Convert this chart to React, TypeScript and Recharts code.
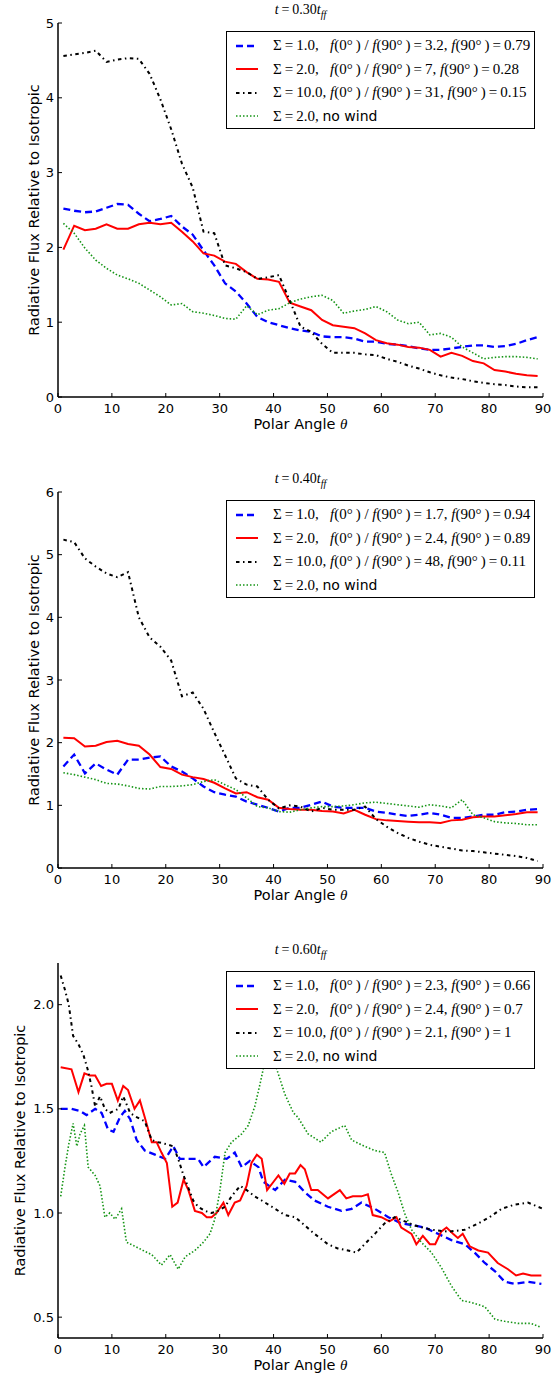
import React from 'react';
import { LineChart, Line, XAxis, YAxis, Legend } from 'recharts';

// angles sampled in the top two panels
const ANGLES = [1, 3, 5, 7, 9, 11, 13, 15, 17, 19, 21, 23, 25, 27, 29, 31, 33, 35, 37, 39, 41, 43, 45,
  47, 49, 51, 53, 55, 57, 59, 61, 63, 65, 67, 69, 71, 73, 75, 77, 79, 81, 83, 85, 87, 89];

const X_TICKS = [0, 10, 20, 30, 40, 50, 60, 70, 80, 90];

// t = 0.30 t_ff
const p1Blue = [2.52, 2.49, 2.47, 2.48, 2.53, 2.58, 2.57, 2.45, 2.35, 2.38, 2.42, 2.28, 2.17, 1.96, 1.76, 1.52, 1.41,
  1.25, 1.07, 1.0, 0.96, 0.92, 0.89, 0.87, 0.81, 0.8, 0.8, 0.78, 0.74, 0.74, 0.71, 0.7, 0.68, 0.65, 0.63, 0.63, 0.65,
  0.67, 0.69, 0.69, 0.67, 0.68, 0.71, 0.76, 0.8];
const p1Red = [1.97, 2.29, 2.23, 2.25, 2.31, 2.25, 2.25, 2.31, 2.33, 2.31, 2.33, 2.21, 2.08, 1.92, 1.89, 1.81, 1.78,
  1.67, 1.58, 1.57, 1.54, 1.26, 1.21, 1.16, 1.03, 0.96, 0.94, 0.92, 0.85, 0.76, 0.72, 0.7, 0.67, 0.66, 0.63, 0.54,
  0.59, 0.55, 0.48, 0.45, 0.36, 0.34, 0.31, 0.29, 0.28];
const p1Black = [4.56, 4.58, 4.6, 4.63, 4.48, 4.51, 4.53, 4.52, 4.32, 3.98, 3.58, 3.12, 2.8, 2.21, 2.19, 1.76, 1.72,
  1.67, 1.58, 1.6, 1.63, 1.29, 0.94, 0.87, 0.71, 0.59, 0.59, 0.59, 0.57, 0.56, 0.51, 0.47, 0.42, 0.38, 0.33, 0.29,
  0.26, 0.24, 0.21, 0.19, 0.17, 0.16, 0.14, 0.13, 0.13];
const p1Green = [2.32, 2.19, 1.99, 1.83, 1.72, 1.63, 1.58, 1.52, 1.43, 1.34, 1.23, 1.25, 1.14, 1.12, 1.09, 1.05, 1.04,
  1.22, 1.1, 1.16, 1.18, 1.26, 1.31, 1.34, 1.36, 1.29, 1.12, 1.15, 1.17, 1.21, 1.14, 1.03, 0.98, 1.0, 0.83, 0.85,
  0.8, 0.67, 0.59, 0.51, 0.53, 0.54, 0.54, 0.53, 0.51];
const p1Stats = [['1.0', '3.2', '0.79'], ['2.0', '7', '0.28'], ['10.0', '31', '0.15']];

// t = 0.40 t_ff
const p2Blue = [1.62, 1.81, 1.51, 1.67, 1.57, 1.49, 1.73, 1.73, 1.76, 1.78, 1.62, 1.54, 1.43, 1.3, 1.21, 1.17, 1.14,
  1.06, 1.01, 0.96, 0.9, 0.96, 0.96, 1.01, 1.06, 0.98, 0.96, 0.96, 0.96, 0.9, 0.88, 0.85, 0.83, 0.85, 0.88, 0.85,
  0.8, 0.8, 0.82, 0.85, 0.85, 0.89, 0.9, 0.93, 0.94];
const p2Red = [2.08, 2.07, 1.94, 1.95, 2.01, 2.03, 1.98, 1.95, 1.81, 1.61, 1.58, 1.49, 1.45, 1.42, 1.36, 1.27, 1.19,
  1.21, 1.13, 1.09, 0.96, 0.94, 0.93, 0.93, 0.91, 0.9, 0.87, 0.93, 0.85, 0.78, 0.76, 0.75, 0.74, 0.73, 0.73, 0.72,
  0.76, 0.77, 0.81, 0.82, 0.82, 0.84, 0.86, 0.89, 0.89];
const p2Black = [5.24, 5.2, 4.94, 4.81, 4.7, 4.64, 4.72, 4.0, 3.68, 3.53, 3.31, 2.74, 2.8, 2.54, 2.16, 1.8, 1.43,
  1.33, 1.3, 1.09, 0.95, 1.0, 0.98, 0.9, 0.96, 0.93, 0.93, 0.93, 0.98, 0.78, 0.66, 0.56, 0.48, 0.42, 0.37, 0.34,
  0.31, 0.28, 0.27, 0.25, 0.23, 0.21, 0.19, 0.16, 0.11];
const p2Green = [1.52, 1.49, 1.45, 1.41, 1.35, 1.34, 1.31, 1.27, 1.26, 1.3, 1.3, 1.31, 1.33, 1.38, 1.41, 1.33, 1.25,
  1.12, 0.98, 0.96, 0.9, 0.89, 0.93, 0.96, 0.98, 0.98, 0.99, 1.01, 1.04, 1.05, 1.03, 1.01, 0.99, 0.97, 1.01, 0.99,
  0.96, 1.09, 0.85, 0.8, 0.74, 0.72, 0.71, 0.69, 0.69];
const p2Stats = [['1.0', '1.7', '0.94'], ['2.0', '2.4', '0.89'], ['10.0', '48', '0.11']];

// t = 0.60 t_ff (finer sampling, read per series)
const p3BlueAng = [0.5, 2.5, 4.1, 5.3, 6.9, 8.1, 9.3, 10.3, 11.5, 12.4, 13.4, 14.6, 16.1, 18, 19.9, 21.4, 22.6, 24.2,
  26, 27, 29.1, 31.3, 32.8, 34.1, 35.6, 37.2, 38.1, 40.3, 42.1, 44, 45.8, 47.6, 50.1, 52.6, 54.5, 56.3, 58.8, 61.3,
  63.7, 66.2, 68.1, 70.5, 73, 75.5, 77.3, 79.2, 81.1, 82.9, 84.7, 87.2, 89.7];
const p3Blue = [1.5, 1.5, 1.49, 1.47, 1.5, 1.48, 1.4, 1.39, 1.46, 1.49, 1.45, 1.35, 1.3, 1.28, 1.26, 1.32, 1.26, 1.26,
  1.26, 1.22, 1.27, 1.26, 1.29, 1.22, 1.25, 1.22, 1.15, 1.11, 1.16, 1.15, 1.1, 1.06, 1.03, 1.01, 1.02, 1.05, 1.02,
  0.98, 0.95, 0.94, 0.93, 0.9, 0.87, 0.85, 0.81, 0.76, 0.72, 0.67, 0.66, 0.67, 0.66];
const p3RedAng = [0.5, 2.5, 3.8, 4.9, 5.9, 6.9, 8, 9, 10, 11.1, 12.1, 13, 14.2, 15.2, 16.1, 17.4, 18.3, 19.2, 20.2,
  21.2, 22.2, 23.3, 24.2, 25.4, 26.7, 27.6, 28.5, 29.4, 30.7, 31.6, 32.8, 33.8, 35, 35.9, 36.9, 37.8, 38.8, 40, 40.9,
  42, 43, 44, 45, 45.8, 47, 48.2, 50.1, 52.3, 53.5, 54.7, 56.3, 57.5, 58.4, 60, 61.5, 62.8, 63.7, 65.6, 66.5, 67.7,
  69, 70, 71.1, 72.1, 73.3, 74.2, 75.1, 76.4, 78, 79.8, 81.6, 83.5, 85, 86.3, 87.8, 89.7];
const p3Red = [1.7, 1.69, 1.58, 1.67, 1.66, 1.66, 1.61, 1.62, 1.62, 1.54, 1.61, 1.59, 1.5, 1.54, 1.46, 1.34, 1.34,
  1.29, 1.24, 1.03, 1.05, 1.16, 1.11, 1.01, 1.0, 0.98, 0.98, 1.0, 1.05, 0.99, 1.05, 1.06, 1.13, 1.24, 1.28, 1.26,
  1.11, 1.15, 1.18, 1.14, 1.19, 1.19, 1.23, 1.21, 1.11, 1.11, 1.07, 1.11, 1.07, 1.08, 1.08, 1.09, 0.99, 0.98, 0.96,
  0.98, 0.93, 0.9, 0.85, 0.89, 0.85, 0.85, 0.91, 0.93, 0.9, 0.88, 0.9, 0.84, 0.82, 0.81, 0.76, 0.73, 0.7, 0.71, 0.7,
  0.7];
const p3BlackAng = [0.5, 1.3, 2, 2.8, 3.8, 4.7, 5.5, 6.2, 6.9, 7.8, 8.7, 9.6, 11.2, 12.1, 13.4, 14.6, 16.1, 17.4, 18.6,
  20.2, 21.4, 22.3, 23.3, 24.2, 25.1, 26, 27.3, 28.5, 29.7, 31, 32.2, 33.8, 35, 36.5, 37.8, 40.3, 42.1, 44, 45.8,
  47.6, 50.1, 51.9, 53.8, 55.4, 56.9, 58.8, 60.6, 62.5, 66.2, 69.3, 72.4, 75.5, 78, 80.1, 82.3, 84.7, 87.2, 90];
const p3Black = [2.14, 2.07, 2.0, 1.85, 1.81, 1.76, 1.69, 1.61, 1.51, 1.56, 1.5, 1.48, 1.5, 1.56, 1.48, 1.46, 1.44,
  1.35, 1.34, 1.33, 1.32, 1.26, 1.18, 1.12, 1.06, 1.03, 1.01, 1.0, 1.01, 1.03, 1.08, 1.13, 1.11, 1.08, 1.06, 1.02,
  0.99, 0.98, 0.94, 0.9, 0.85, 0.83, 0.82, 0.81, 0.85, 0.9, 0.95, 0.98, 0.94, 0.92, 0.91, 0.92, 0.95, 0.98, 1.02,
  1.04, 1.05, 1.02];
const p3GreenAng = [0.5, 1.3, 2, 2.8, 3.5, 4.1, 4.9, 5.6, 6.9, 7.8, 8.7, 9.6, 10.6, 11.8, 12.7, 14.3, 15.8, 17.4, 19.2,
  20.8, 22.3, 23.6, 25.4, 27, 28.2, 29.1, 30, 31, 32.2, 34.1, 35.3, 36.5, 37.5, 38.4, 39.5, 40.6, 42.1, 43.7, 44.5,
  46.4, 48.8, 50.7, 53.2, 54.5, 56.9, 58.8, 60.6, 61.8, 63.1, 64.3, 65.6, 67.4, 69.3, 71.1, 73, 74.9, 76.8, 79.2,
  81.1, 82.9, 85.4, 87.8, 89.7];
const p3Green = [1.08, 1.22, 1.33, 1.43, 1.32, 1.38, 1.42, 1.22, 1.18, 1.13, 0.98, 1.0, 0.97, 1.02, 0.86, 0.84, 0.82,
  0.8, 0.75, 0.8, 0.73, 0.79, 0.82, 0.86, 0.9, 0.97, 1.1, 1.29, 1.34, 1.38, 1.42, 1.51, 1.62, 1.73, 1.76, 1.69, 1.57,
  1.48, 1.46, 1.38, 1.34, 1.39, 1.42, 1.35, 1.32, 1.3, 1.29, 1.19, 1.1, 1.0, 0.92, 0.86, 0.81, 0.74, 0.65, 0.58,
  0.57, 0.55, 0.49, 0.48, 0.47, 0.47, 0.45];
const p3Stats = [['1.0', '2.3', '0.66'], ['2.0', '2.4', '0.7'], ['10.0', '2.1', '1']];

type Pt = { a: number; v: number };
const pts = (angles: number[], vals: number[]): Pt[] => vals.map((v, i) => ({ a: angles[i], v }));

const STYLES = [
  { key: 'blue', stroke: '#0000ff', dash: '7 4', width: 2.3 },
  { key: 'red', stroke: '#ff0000', dash: undefined, width: 2 },
  { key: 'black', stroke: '#000000', dash: '3.5 3.5 1.5 3.5', width: 2 },
  { key: 'green', stroke: '#149414', dash: '1.5 2', width: 1.6 },
];

const W = 553;
const PLOT_L = 58;
const PLOT_R = 543;
const TICK_FONT = { fill: '#000', fontSize: 13, fontFamily: 'DejaVu Sans' };
const LABEL_SIZE = 14.5;
const FRAME = { stroke: '#000', strokeWidth: 1.5 };
const TICKLINE = { stroke: '#000', strokeWidth: 1 };

function statLabel(s: string[]) {
  const gap = s[0].length < 4 ? '\u2002 ' : ' ';
  return (
    <>
      Σ{'\u2009'}={'\u2009'}{s[0]},{gap}<i>f</i>(0°{'\u2009'}) / <i>f</i>(90°{'\u2009'}){'\u2009'}={'\u2009'}{s[1]},{' '}
      <i>f</i>(90°{'\u2009'}){'\u2009'}={'\u2009'}{s[2]}
    </>
  );
}

function LegendBox({ stats }: { stats: string[][] }) {
  const labels: React.ReactNode[] = [
    ...stats.map((s) => statLabel(s)),
    <>Σ{'\u2009'}={'\u2009'}2.0, <span style={{ fontFamily: 'DejaVu Sans', fontSize: 14 }}>no wind</span></>,
  ];
  return (
    <div style={{
      width: 309, height: 98, boxSizing: 'border-box', border: '1.3px solid #000', background: '#fff',
      paddingTop: 2,
    }}>
      {STYLES.map((s, i) => (
        <div key={s.key} style={{ height: 23.5, display: 'flex', alignItems: 'center' }}>
          <svg width={46} height={10} style={{ flex: 'none' }}>
            <line x1={9} x2={31} y1={5} y2={5} stroke={s.stroke} strokeWidth={s.width} strokeDasharray={s.dash} />
          </svg>
          <span style={{ fontFamily: 'Liberation Serif', fontSize: 15, whiteSpace: 'nowrap', color: '#000' }}>
            {labels[i]}
          </span>
        </div>
      ))}
    </div>
  );
}

type PanelProps = {
  top: number;
  height: number;
  plotTop: number;
  plotH: number;
  yDomain: [number, number];
  yTicks: number[];
  yFmt: (v: number) => string;
  yLabelX: number;
  series: Pt[][];
  time: string;
  stats: string[][];
};

function Panel({ top, height, plotTop, plotH, yDomain, yTicks, yFmt, yLabelX, series, time, stats }: PanelProps) {
  const xAxisH = height - plotTop - plotH;
  return (
    <div style={{ position: 'absolute', left: 0, top, width: W, height }}>
      <div style={{
        position: 'absolute', left: PLOT_L, width: PLOT_R - PLOT_L, top: plotTop - 21, lineHeight: '15px',
        textAlign: 'center', fontFamily: 'Liberation Serif', fontSize: 14, color: '#000',
      }}>
        <i>t</i>{'\u2009'}={'\u2009'}{time}<i>t</i><sub style={{ fontSize: 10, fontStyle: 'italic' }}>ff</sub>
      </div>
      <LineChart width={W} height={height} margin={{ top: plotTop, right: W - PLOT_R, left: 0, bottom: 0 }}>
        <XAxis
          xAxisId="b" dataKey="a" type="number" domain={[0, 90]} ticks={X_TICKS} interval={0}
          height={xAxisH} tick={TICK_FONT} tickSize={-4} tickMargin={11} axisLine={FRAME} tickLine={TICKLINE}
          label={{
            content: (p: any) => (
              <text x={p.viewBox.x + p.viewBox.width / 2} y={p.viewBox.y + 32} textAnchor="middle"
                fontFamily="DejaVu Sans" fontSize={LABEL_SIZE} fill="#000">
                Polar Angle <tspan fontFamily="Liberation Serif" fontStyle="italic" fontSize={15}>θ</tspan>
              </text>
            ),
          }}
        />
        <XAxis
          xAxisId="t" orientation="top" dataKey="a" type="number" domain={[0, 90]} ticks={X_TICKS} interval={0}
          height={0} tick={false} tickSize={-4} axisLine={FRAME} tickLine={TICKLINE}
        />
        <YAxis
          yAxisId="l" type="number" domain={yDomain} ticks={yTicks} interval={0} width={PLOT_L}
          tick={TICK_FONT} tickFormatter={yFmt} tickSize={-4} tickMargin={8} axisLine={FRAME} tickLine={TICKLINE}
          label={{
            content: (p: any) => {
              const cx = yLabelX;
              const cy = p.viewBox.y + p.viewBox.height / 2;
              return (
                <text x={cx} y={cy} transform={`rotate(-90 ${cx} ${cy})`} textAnchor="middle"
                  fontFamily="DejaVu Sans" fontSize={LABEL_SIZE} fill="#000">
                  Radiative Flux Relative to Isotropic
                </text>
              );
            },
          }}
        />
        <YAxis
          yAxisId="r" orientation="right" type="number" domain={yDomain} ticks={yTicks} interval={0} width={0}
          tick={false} tickSize={-4} axisLine={FRAME} tickLine={TICKLINE}
        />
        {series.map((d, i) => (
          <Line
            key={STYLES[i].key} xAxisId="b" yAxisId="l" data={d} dataKey="v" type="linear" dot={false}
            stroke={STYLES[i].stroke} strokeWidth={STYLES[i].width} strokeDasharray={STYLES[i].dash}
            isAnimationActive={false} name={STYLES[i].key}
          />
        ))}
        <Legend
          layout="vertical" align="center" verticalAlign="middle" width={309} height={98}
          wrapperStyle={{ left: 226, top: plotTop + 8, width: 309, height: 98 }}
          content={() => <LegendBox stats={stats} />}
        />
      </LineChart>
    </div>
  );
}

export default function App() {
  const int = (v: number) => String(v);
  const one = (v: number) => v.toFixed(1);
  return (
    <div style={{ position: 'absolute', left: 0, top: 0, width: W, height: 1379, background: '#fff' }}>
      <Panel
        top={0} height={440} plotTop={23} plotH={374} yDomain={[0, 5]} yTicks={[0, 1, 2, 3, 4, 5]} yFmt={int}
        yLabelX={39}
        series={[pts(ANGLES, p1Blue), pts(ANGLES, p1Red), pts(ANGLES, p1Black), pts(ANGLES, p1Green)]}
        time="0.30" stats={p1Stats}
      />
      <Panel
        top={450} height={460} plotTop={42} plotH={376} yDomain={[0, 6]} yTicks={[0, 1, 2, 3, 4, 5, 6]} yFmt={int}
        yLabelX={39}
        series={[pts(ANGLES, p2Blue), pts(ANGLES, p2Red), pts(ANGLES, p2Black), pts(ANGLES, p2Green)]}
        time="0.40" stats={p2Stats}
      />
      <Panel
        top={920} height={459} plotTop={43} plotH={375} yDomain={[0.4, 2.2]} yTicks={[0.5, 1.0, 1.5, 2.0]} yFmt={one}
        yLabelX={25}
        series={[pts(p3BlueAng, p3Blue), pts(p3RedAng, p3Red), pts(p3BlackAng, p3Black), pts(p3GreenAng, p3Green)]}
        time="0.60" stats={p3Stats}
      />
    </div>
  );
}
